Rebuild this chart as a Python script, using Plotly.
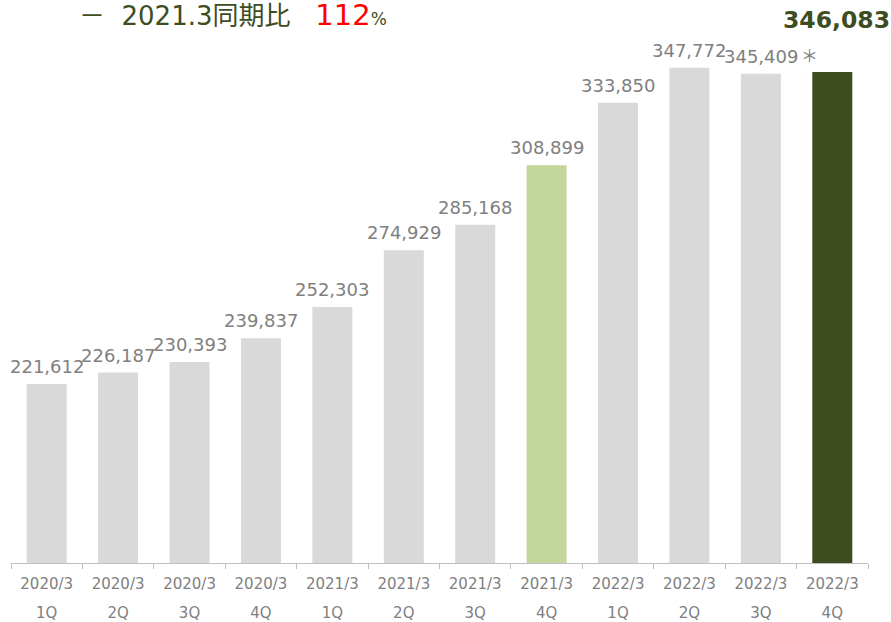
import plotly.graph_objects as go

periods = ["2020/3", "2020/3", "2020/3", "2020/3", "2021/3", "2021/3", "2021/3", "2021/3",
           "2022/3", "2022/3", "2022/3", "2022/3"]
quarters = ["1Q", "2Q", "3Q", "4Q", "1Q", "2Q", "3Q", "4Q", "1Q", "2Q", "3Q", "4Q"]
values = [221612, 226187, 230393, 239837, 252303, 274929, 285168, 308899,
          333850, 347772, 345409, 346083]
cats = [f"{p} {q}" for p, q in zip(periods, quarters)]

GRAY = "#D9D9D9"
LIGHT_GREEN = "#C4D79B"
DARK_OLIVE = "#3D4D1F"
colors = [GRAY] * 12
colors[7] = LIGHT_GREEN
colors[11] = DARK_OLIVE

NUMFONT = "Verdana, DejaVu Sans, sans-serif"

fig = go.Figure()
fig.add_trace(go.Bar(
    x=cats, y=values, marker_color=colors, marker_line_width=0,
    hoverinfo="skip", showlegend=False,
))
fig.add_trace(go.Scatter(
    x=cats, y=[None] * 12, xaxis="x2", showlegend=False, hoverinfo="skip",
))

# Value labels
for i, (c, v) in enumerate(zip(cats, values)):
    if i == len(values) - 1:
        fig.add_annotation(
            x=c, y=v, text=f"<b>{v:,}</b>", showarrow=False,
            yanchor="bottom", yshift=36, xshift=4,
            font=dict(family=NUMFONT, size=23.5, color=DARK_OLIVE),
        )
    else:
        fig.add_annotation(
            x=c, y=v, text=f"{v:,}", showarrow=False,
            yanchor="bottom", yshift=5,
            font=dict(family=NUMFONT, size=18, color="#808080"),
        )

# Asterisk next to 3Q label
fig.add_annotation(
    x=cats[10], y=values[10], text="＊", showarrow=False,
    xanchor="left", yanchor="bottom", xshift=38, yshift=5,
    font=dict(family="Noto Sans CJK JP", size=17, color="#808080"),
)
# Header text
fig.add_annotation(
    xref="paper", yref="paper", x=0, y=1, xanchor="left", yanchor="middle",
    xshift=66, yshift=-5, showarrow=False,
    text=("－  2021.3同期比   <span style='color:#FF0000;font-size:29px'>112</span>"
          "<span style='font-size:17px'>%</span>"),
    font=dict(family="DejaVu Sans, Noto Sans CJK JP", size=26, color=DARK_OLIVE),
)

fig.update_layout(
    width=891, height=622,
    margin=dict(l=11, r=23, t=10, b=59, autoexpand=False),
    plot_bgcolor="white", paper_bgcolor="white",
    bargap=0.44,
    xaxis=dict(
        type="category", categoryorder="array", categoryarray=cats,
        tickmode="array", tickvals=cats, ticktext=periods,
        showline=True, linecolor="#BFBFBF", linewidth=1,
        ticks="outside", tickson="boundaries", ticklen=5, tickcolor="#BFBFBF",
        ticklabelstandoff=7, automargin=False,
        tickfont=dict(family=NUMFONT, size=15, color="#808080"),
        showgrid=False, range=[-0.5, 11.5],
    ),
    xaxis2=dict(
        type="category", categoryorder="array", categoryarray=cats,
        overlaying="x", anchor="y", side="bottom",
        tickmode="array", tickvals=cats, ticktext=quarters,
        showline=False, ticks="", showgrid=False, range=[-0.5, 11.5],
        ticklabelstandoff=39, automargin=False,
        tickfont=dict(family=NUMFONT, size=15, color="#808080"),
    ),
    yaxis=dict(visible=False, range=[150200, 370800], showgrid=False, automargin=False),
)

fig.write_html(
    "out.html",
    config={"displayModeBar": False},
    post_script="document.body.style.margin='0';document.body.style.overflow='hidden';",
)
